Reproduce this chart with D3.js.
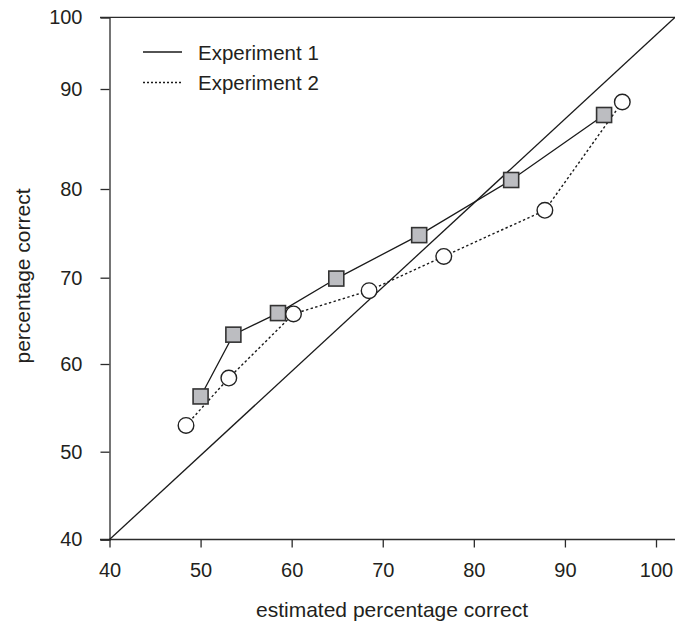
<!DOCTYPE html>
<html>
<head>
<meta charset="utf-8">
<script src="https://cdn.jsdelivr.net/npm/d3@7"></script>
<style>
  body { margin: 0; background: #fff; }
  svg { display: block; }
  text { font-family: "Liberation Sans", Arial, sans-serif; fill: #231f20; }
</style>
</head>
<body>
<div id="chart"></div>
<script>
// values
const xTicks = [40, 50, 60, 70, 80, 90, 100];
const yTicks = [40, 50, 60, 70, 80, 90, 100];

const exp1X = [50.0, 53.6, 58.5, 64.9, 74.0, 84.1, 94.3];
const exp1Y = [56.3, 63.4, 65.9, 69.9, 74.8, 80.9, 87.4];

const exp2X = [48.4, 53.1, 60.2, 68.5, 76.7, 87.8, 96.3];
const exp2Y = [53.0, 58.4, 65.8, 68.5, 72.4, 77.6, 88.7];

// reference diagonal (runs off the right edge)
const diagX = [40, 102.1];
const diagY = [40, 100];

const legendLabels = ['Experiment 1', 'Experiment 2'];

const W = 675, H = 621;
const svg = d3.select('#chart').append('svg').attr('width', W).attr('height', H);

const x = d3.scaleLinear().domain([40, 100]).range([109.5, 656]);
// the printed y axis is not evenly spaced, so follow its ticks
const y = d3.scaleLinear()
  .domain([40, 50, 60, 70, 80, 90, 100])
  .range([539.5, 451.7, 364, 277.7, 189, 89, 17.3]);

const ink = '#2b2b2b';

// frame lines (top and bottom run to the image edge)
svg.append('line').attr('x1', 100).attr('x2', W).attr('y1', y(100)).attr('y2', y(100))
  .attr('stroke', ink).attr('stroke-width', 1.3);
svg.append('line').attr('x1', 100).attr('x2', W).attr('y1', y(40)).attr('y2', y(40))
  .attr('stroke', ink).attr('stroke-width', 1.3);

const xAxis = svg.append('g').attr('transform', `translate(0,${y(40)})`)
  .call(d3.axisBottom(x).tickValues(xTicks).tickSize(8).tickPadding(15).tickFormat(d3.format('d')));
const yAxis = svg.append('g').attr('transform', `translate(${x(40)},0)`)
  .call(d3.axisLeft(y).tickValues(yTicks).tickSize(9).tickPadding(18).tickFormat(d3.format('d')));
xAxis.select('.domain').remove();
[xAxis, yAxis].forEach(g => {
  g.selectAll('.domain').attr('stroke', ink).attr('stroke-width', 1.3);
  g.selectAll('.tick line').attr('stroke', ink).attr('stroke-width', 1.3);
  g.selectAll('.tick text').attr('font-size', 20).attr('font-family', '"Liberation Sans", Arial, sans-serif').attr('fill', '#231f20');
});

// axis titles
svg.append('text').attr('x', 392).attr('y', 616.5).attr('text-anchor', 'middle')
  .attr('font-size', 21).text('estimated percentage correct');
svg.append('text').attr('transform', 'translate(29.5,276) rotate(-90)').attr('text-anchor', 'middle')
  .attr('font-size', 21).text('percentage correct');

const line = d3.line().x(d => x(d[0])).y(d => y(d[1]));

svg.append('path').datum(d3.zip(diagX, diagY)).attr('d', line)
  .attr('fill', 'none').attr('stroke', '#1a1a1a').attr('stroke-width', 1.3);

const pts1 = d3.zip(exp1X, exp1Y);
const pts2 = d3.zip(exp2X, exp2Y);

svg.append('path').datum(pts1).attr('d', line)
  .attr('fill', 'none').attr('stroke', '#1a1a1a').attr('stroke-width', 1.3);
svg.append('path').datum(pts2).attr('d', line)
  .attr('fill', 'none').attr('stroke', '#1a1a1a').attr('stroke-width', 1.4)
  .attr('stroke-dasharray', '2.4,2.4');

const sq = 15;
svg.append('g').selectAll('rect').data(pts1).join('rect')
  .attr('x', d => x(d[0]) - sq / 2).attr('y', d => y(d[1]) - sq / 2)
  .attr('width', sq).attr('height', sq)
  .attr('fill', '#bcbdc1').attr('stroke', '#333').attr('stroke-width', 1.6);

svg.append('g').selectAll('circle').data(pts2).join('circle')
  .attr('cx', d => x(d[0])).attr('cy', d => y(d[1])).attr('r', 7.8)
  .attr('fill', '#fff').attr('stroke', '#222').attr('stroke-width', 1.4);

// legend
const legend = svg.append('g');
legendLabels.forEach((lab, i) => {
  const ly = 52 + i * 30.5;
  const l = legend.append('line').attr('x1', 143).attr('x2', 182).attr('y1', ly).attr('y2', ly)
    .attr('stroke', '#1a1a1a').attr('stroke-width', 1.3);
  if (i === 1) l.attr('stroke-dasharray', '2,2');
  legend.append('text').attr('x', 198).attr('y', ly + 7.5).attr('font-size', 20.5).text(lab);
});
</script>
</body>
</html>
